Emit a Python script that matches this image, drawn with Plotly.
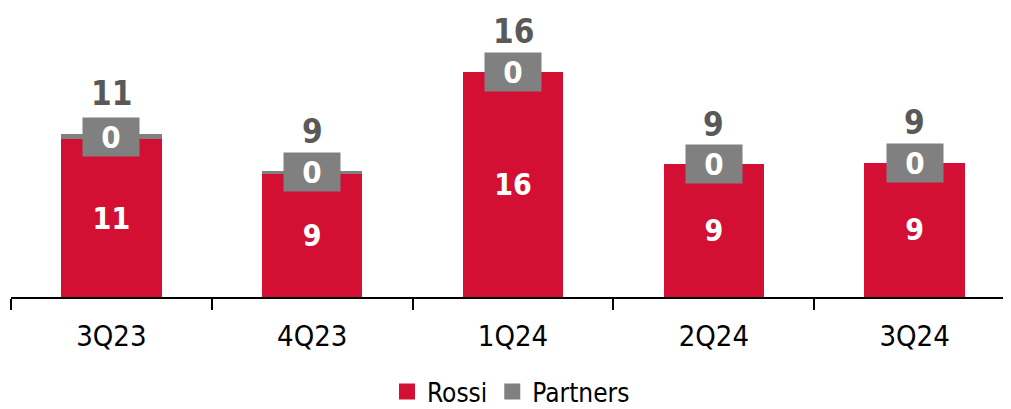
import plotly.graph_objects as go

categories = ["3Q23", "4Q23", "1Q24", "2Q24", "3Q24"]
rossi = [11.0, 8.6, 15.7, 9.25, 9.35]
partners = [0.37, 0.17, 0.0, 0.0, 0.0]
totals = [r + p for r, p in zip(rossi, partners)]

RED = "#D31034"
GRAY = "#808080"
DARK = "#595959"
FONT = "DejaVu Sans Condensed, DejaVu Sans, sans-serif"

fig = go.Figure()
fig.add_trace(go.Bar(
    x=categories, y=rossi, name="Rossi", marker=dict(color=RED, line=dict(width=0)),
    text=[f"{v:.0f}" for v in rossi], textposition="inside", insidetextanchor="middle",
    textfont=dict(family=FONT, size=30, color="white", weight="bold"),
    showlegend=False, legendgroup="r", width=0.5,
))
fig.add_trace(go.Bar(
    x=categories, y=partners, name="Partners", marker=dict(color=GRAY, line=dict(width=0)),
    showlegend=False, legendgroup="p", width=0.5,
))
# legend entries
fig.add_trace(go.Scatter(x=[None], y=[None], mode="markers", name="Rossi", legendgroup="r",
                         marker=dict(symbol="square", size=16, color=RED)))
fig.add_trace(go.Scatter(x=[None], y=[None], mode="markers", name="Partners", legendgroup="p",
                         marker=dict(symbol="square", size=16, color=GRAY)))

for c, r, p, t in zip(categories, rossi, partners, totals):
    fig.add_annotation(x=c, y=r + p / 2, text=f"<b>{p:.0f}</b>", showarrow=False,
                       bgcolor=GRAY, width=56, height=38, borderpad=0,
                       font=dict(family=FONT, size=31, color="white"))
    fig.add_annotation(x=c, y=t, yshift=40, text=f"<b>{t:.0f}</b>", showarrow=False,
                       font=dict(family=FONT, size=33, color=DARK))

# page body has an 8px default margin, so the figure is sized/offset to compensate
fig.update_layout(
    width=1003, height=401, barmode="stack",
    margin=dict(l=3, r=0, t=2, b=112, autoexpand=False),
    plot_bgcolor="white", paper_bgcolor="white",
    font=dict(family=FONT),
    legend=dict(orientation="h", x=0.5, xanchor="center", y=-0.33, yanchor="middle",
                font=dict(family=FONT, size=26, color="black"), itemwidth=30,
                bgcolor="rgba(0,0,0,0)"),
    xaxis=dict(type="category", range=[-0.5, 4.48], showline=True, linecolor="black", linewidth=2,
               ticks="outside", tickson="boundaries", ticklen=11, tickwidth=2, tickcolor="black",
               ticklabelstandoff=12,
               tickfont=dict(family=FONT, size=29, color="black"), showgrid=False, fixedrange=True,
               automargin=False),
    yaxis=dict(range=[0, 20], visible=False, showgrid=False, zeroline=False, fixedrange=True,
               automargin=False),
)

fig.write_html("out.html")
